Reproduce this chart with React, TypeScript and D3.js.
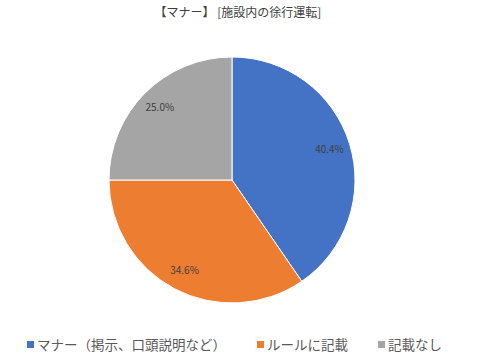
import { useEffect, useRef } from 'react'
import * as d3 from 'd3'

const categories = ['マナー（掲示、口頭説明など）', 'ルールに記載', '記載なし']
const values = [40.4, 34.6, 25.0]
const colors = ['#4472C4', '#ED7D31', '#A5A5A5']
const title = '【マナー】 [施設内の徐行運転]'

const w = 487
const h = 362

export default function App() {
	const ref = useRef<SVGSVGElement>(null)

	useEffect(() => {
		const svg = d3.select(ref.current)
		svg.selectAll('*').remove()

		const font = '"Noto Sans CJK JP", "Noto Sans", sans-serif'
		const cx = 232
		const cy = 180
		const r = 123

		svg.append('rect').attr('width', w).attr('height', h).attr('fill', '#fff')

		svg.append('text')
			.attr('x', 238)
			.attr('y', 17)
			.attr('text-anchor', 'middle')
			.attr('font-family', font)
			.attr('font-size', '12px')
			.attr('fill', '#404040')
			.text(title)

		const pie = d3.pie<number>().sort(null)
		const arcs = pie(values)
		const arc = d3.arc<d3.PieArcDatum<number>>().innerRadius(0).outerRadius(r)
		const labelArc = d3.arc<d3.PieArcDatum<number>>().innerRadius(r * 0.83).outerRadius(r * 0.83)

		const g = svg.append('g').attr('transform', `translate(${cx},${cy})`)

		g.selectAll('path')
			.data(arcs)
			.enter().append('path')
			.attr('d', arc)
			.attr('fill', (d, i) => colors[i])
			.attr('stroke', '#fff')
			.attr('stroke-width', 1)

		g.selectAll('text')
			.data(arcs)
			.enter().append('text')
			.attr('transform', d => `translate(${labelArc.centroid(d)})`)
			.attr('text-anchor', 'middle')
			.attr('dy', '0.35em')
			.attr('font-family', font)
			.attr('font-size', '10px')
			.attr('fill', '#404040')
			.text(d => `${d.data.toFixed(1)}%`)

		// legend
		const legendX = [27, 257, 378]
		const legend = svg.append('g')
		categories.forEach((c, i) => {
			legend.append('rect')
				.attr('x', legendX[i])
				.attr('y', 341)
				.attr('width', 7)
				.attr('height', 7)
				.attr('fill', colors[i])
			legend.append('text')
				.attr('x', legendX[i] + 10)
				.attr('y', 350)
				.attr('font-family', font)
				.attr('font-size', '13.5px')
				.attr('fill', '#595959')
				.text(c)
		})
	}, [])

	return (
		<svg ref={ref} width={w} height={h} style={{ position: 'absolute', left: 0, top: 0 }} />
	)
}
